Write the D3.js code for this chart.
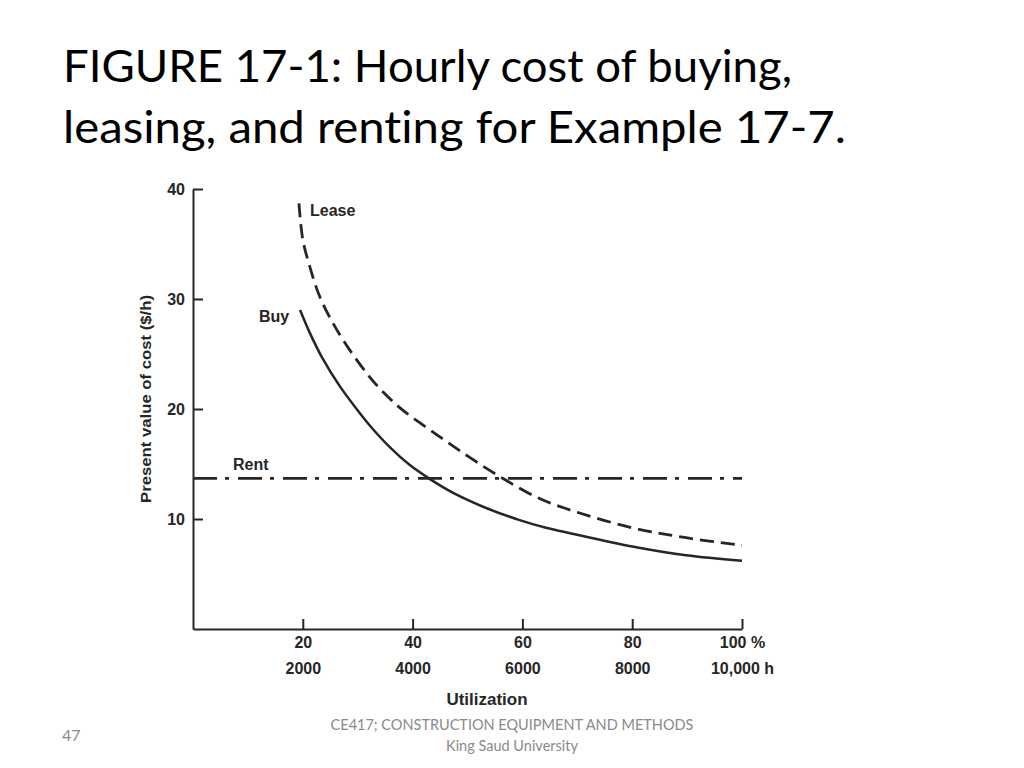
<!DOCTYPE html>
<html>
<head>
<meta charset="utf-8">
<script src="https://cdn.jsdelivr.net/npm/d3@7"></script>
<style>
  body { margin: 0; background: #fff; }
  svg { display: block; }
</style>
</head>
<body>
<svg id="chart"></svg>
<script>
// values (utilization % -> $/h)
var buyX = [19.5, 21.3, 23.6, 26.7, 29.8, 32.2, 35.8, 39.5, 43.1, 47.3, 53.4, 59.5, 64.3, 67.9, 80, 89.8, 100];
var buyY = [29.0, 26.9, 24.6, 22.1, 20.0, 18.5, 16.55, 14.9, 13.65, 12.4, 11.0, 9.9, 9.2, 8.8, 7.5, 6.7, 6.2];
var leaseX = [19.3, 20, 21.3, 23.1, 25.5, 28.5, 32.2, 34.9, 38.2, 44.3, 50.4, 56.4, 62.5, 67.9, 80, 89.8, 100];
var leaseY = [38.7, 35.4, 32.9, 30.2, 27.8, 25.4, 22.9, 21.4, 19.9, 17.7, 15.6, 13.7, 12.0, 10.95, 9.2, 8.3, 7.6];
var rentX = [0, 100];
var rentY = [13.7, 13.7];

var xTicks = [20, 40, 60, 80, 100];
var pctLabels = ["20", "40", "60", "80", "100 %"];
var hourLabels = ["2000", "4000", "6000", "8000", "10,000 h"];
var yTicks = [10, 20, 30, 40];

var titleLines = ["FIGURE 17-1: Hourly cost of buying,", "leasing, and renting for Example 17-7."];

var W = 1024, H = 768;
var ink = "#262626";
var chartFont = "'Liberation Sans', Arial, sans-serif";

var svg = d3.select("#chart").attr("width", W).attr("height", H);

// title
svg.selectAll(".title")
  .data(titleLines)
  .join("text")
  .attr("class", "title")
  .attr("x", 63)
  .attr("y", function (d, i) { return 82 + i * 61; })
  .attr("textLength", function (d, i) { return i == 0 ? 729 : 783; })
  .attr("lengthAdjust", "spacingAndGlyphs")
  .style("font-family", "Lato, 'Open Sans', sans-serif")
  .style("font-size", "44px")
  .style("font-variant-ligatures", "none")
  .style("fill", "#000")
  .text(function (d) { return d; });

var x = d3.scaleLinear().domain([0, 100]).range([193, 742]);
var y = d3.scaleLinear().domain([0, 40]).range([629, 189]);

// x axis
var gx = svg.append("g")
  .attr("transform", "translate(0," + y(0) + ")")
  .call(d3.axisBottom(x)
    .tickValues(xTicks)
    .tickSizeInner(-10)
    .tickSizeOuter(0)
    .tickPadding(8)
    .tickFormat(function (d, i) { return pctLabels[i]; }));

gx.selectAll("text")
  .style("font-family", chartFont)
  .style("font-size", "16px")
  .style("font-weight", "bold")
  .style("fill", ink);

gx.selectAll(".tick")
  .append("text")
  .attr("y", 45)
  .style("font-family", chartFont)
  .style("font-size", "16px")
  .style("font-weight", "bold")
  .style("fill", ink)
  .attr("text-anchor", "middle")
  .text(function (d, i) { return hourLabels[i]; });

// y axis
var gy = svg.append("g")
  .attr("transform", "translate(" + x(0) + ",0)")
  .call(d3.axisLeft(y)
    .tickValues(yTicks)
    .tickSizeInner(-10)
    .tickSizeOuter(0)
    .tickPadding(8));

gy.selectAll("text")
  .style("font-family", chartFont)
  .style("font-size", "16px")
  .style("font-weight", "bold")
  .style("fill", ink);

svg.selectAll(".domain, .tick line")
  .attr("stroke", ink)
  .attr("stroke-width", 2);

// axis titles
svg.append("text")
  .attr("x", 487)
  .attr("y", 705)
  .attr("text-anchor", "middle")
  .style("font-family", chartFont)
  .style("font-size", "17px")
  .style("font-weight", "bold")
  .style("fill", ink)
  .text("Utilization");

svg.append("text")
  .attr("transform", "translate(151,399) rotate(-90)")
  .attr("text-anchor", "middle")
  .attr("textLength", 208)
  .attr("lengthAdjust", "spacingAndGlyphs")
  .style("font-family", chartFont)
  .style("font-size", "15px")
  .style("font-weight", "bold")
  .style("fill", ink)
  .text("Present value of cost ($/h)");

// curves
var line = d3.line()
  .x(function (d) { return x(d[0]); })
  .y(function (d) { return y(d[1]); })
  .curve(d3.curveCatmullRom.alpha(0.5));

var series = [
  { name: "Rent", xs: rentX, ys: rentY, dash: "24,8,4,9", w: 2.8 },
  { name: "Lease", xs: leaseX, ys: leaseY, dash: "14,7", w: 2.8 },
  { name: "Buy", xs: buyX, ys: buyY, dash: null, w: 2.5 }
];

svg.selectAll(".curve")
  .data(series)
  .join("path")
  .attr("class", "curve")
  .attr("d", function (s) { return line(d3.zip(s.xs, s.ys)); })
  .attr("fill", "none")
  .attr("stroke", ink)
  .attr("stroke-width", function (s) { return s.w; })
  .attr("stroke-dasharray", function (s) { return s.dash; });

// curve labels
var curveLabels = [
  { t: "Lease", px: 310, py: 216 },
  { t: "Buy", px: 259, py: 322 },
  { t: "Rent", px: 233, py: 470 }
];
svg.selectAll(".clabel")
  .data(curveLabels)
  .join("text")
  .attr("class", "clabel")
  .attr("x", function (d) { return d.px; })
  .attr("y", function (d) { return d.py; })
  .style("font-family", chartFont)
  .style("font-size", "16px")
  .style("font-weight", "bold")
  .style("fill", ink)
  .text(function (d) { return d.t; });

// footer
svg.append("text")
  .attr("x", 512).attr("y", 730)
  .attr("text-anchor", "middle")
  .style("font-family", "Lato, 'Open Sans', sans-serif")
  .style("font-size", "14.5px")
  .style("fill", "#8a8a8a")
  .text("CE417; CONSTRUCTION EQUIPMENT AND METHODS");

svg.append("text")
  .attr("x", 512).attr("y", 751)
  .attr("text-anchor", "middle")
  .style("font-family", "Lato, 'Open Sans', sans-serif")
  .style("font-size", "14.5px")
  .style("fill", "#8a8a8a")
  .text("King Saud University");

svg.append("text")
  .attr("x", 62).attr("y", 741)
  .style("font-family", "Lato, 'Open Sans', sans-serif")
  .style("font-size", "16px")
  .style("fill", "#8a8a8a")
  .text("47");
</script>
</body>
</html>
